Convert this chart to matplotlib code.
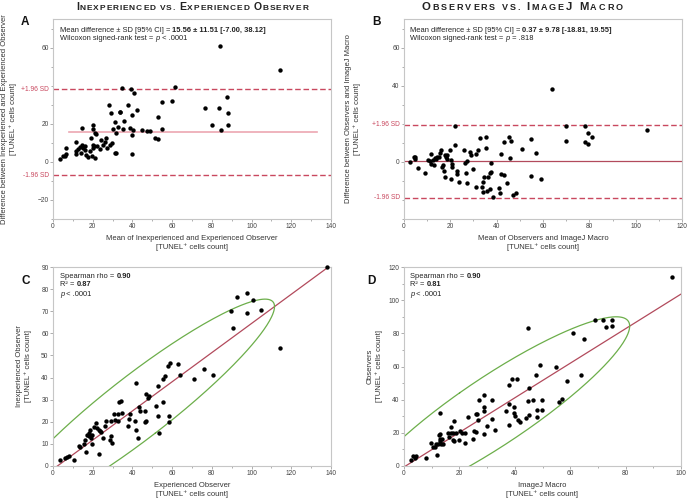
import numpy as np
import matplotlib
matplotlib.use("Agg")
import matplotlib.pyplot as plt
from matplotlib.ticker import MultipleLocator
from matplotlib.transforms import IdentityTransform

plt.rcParams['font.family'] = ['Liberation Sans', 'DejaVu Sans']

# ---- panel A: Bland-Altman, inexperienced vs experienced observer
a_mean = [3.4, 5.0, 5.9, 6.7, 6.7, 11.4, 11.7, 11.7, 12.6, 13.4, 14.4, 14.3, 14.8, 15.1,
          15.9, 16.3, 16.4, 17.4, 18.5, 19.3, 19.5, 20.1, 20.3, 20.1, 20.1, 20.6, 21.0,
          21.3, 21.5, 22.1, 23.5, 24.3, 25.2, 26.0, 26.5, 27.2, 28.0, 28.5, 29.4, 29.5,
          30.2, 31.0, 31.4, 31.9, 31.5, 32.9, 33.6, 33.9, 34.6, 35.2, 35.7, 37.8, 38.9,
          39.3, 39.6, 39.8, 39.9, 40.3, 40.9, 42.4, 44.6, 47.3, 48.7, 51.5, 52.9, 52.7,
          55.0, 55.0, 59.9, 61.2, 76.5, 79.9, 83.6, 83.9, 84.6, 87.6, 88.1, 87.9, 114.1]
a_diff = [1.6, 3.0, 3.3, 4.2, 7.5, 10.4, 3.9, 5.6, 6.5, 7.9, 17.9, 4.7, 9.1, 7.5,
          8.2, 6.1, 3.5, 2.3, 5.6, 12.6, 3.0, 19.5, 17.4, 9.1, 7.4, 8.2, 2.1,
          15.1, 14.4, 8.4, 6.5, 11.4, 9.1, 10.4, 12.3, 7.4, 30.0, 9.1, 25.4, 10.0,
          17.4, 20.9, 4.4, 4.7, 14.9, 18.1, 26.1, 26.3, 38.8, 17.0, 21.4, 29.8, 17.9,
          38.4, 24.4, 13.9, 3.9, 16.5, 36.0, 27.0, 16.5, 16.0, 16.0, 12.6, 12.1, 23.5,
          31.4, 17.0, 31.9, 39.5, 28.4, 19.5, 28.4, 60.9, 16.5, 34.0, 25.4, 19.5, 48.2]
a_stats = [15.56, -7.00, 38.12]          # mean, lower and upper limit
a_mean_span = [8, 133]
a_yticks = [-20, 0, 20, 60]

# ---- panel B: Bland-Altman, observers vs ImageJ macro
b_mean = [2.7, 4.2, 4.6, 4.9, 6.0, 8.9, 10.4, 11.1, 11.8, 11.8, 12.5, 13.0, 13.2, 14.0,
          14.4, 15.1, 15.7, 15.8, 16.4, 16.8, 17.3, 17.8, 17.8, 18.3, 18.6, 18.4, 20.0,
          20.3, 20.7, 20.9, 20.4, 22.2, 22.2, 22.9, 22.9, 23.7, 25.8, 26.2, 26.6, 27.3,
          27.3, 28.3, 28.8, 29.8, 30.9, 31.1, 31.9, 33.0, 33.8, 34.1, 34.1, 34.5, 35.3,
          35.5, 35.8, 36.4, 37.1, 37.3, 37.4, 37.6, 38.4, 40.9, 41.4, 41.7, 42.0, 43.0,
          43.0, 44.3, 45.3, 45.6, 46.3, 46.9, 48.5, 50.9, 54.7, 54.8, 57.1, 59.0, 63.9,
          70.1, 70.1, 78.0, 78.0, 79.4, 79.3, 81.2, 105.0]
b_diff = [-0.2, 2.5, 1.6, 2.3, -3.3, -5.6, 0.9, 0.2, 3.9, -1.2, 1.1, -1.4, 1.9, 1.4,
          2.3, 2.5, 4.9, 6.0, -2.5, -1.6, -4.6, 3.7, -8.1, 2.3, 1.4, 3.7, 6.3,
          1.1, -1.1, -2.5, -9.1, 18.6, 8.8, -4.6, -6.3, -10.4, 6.1, -0.7, -6.1, 0.2,
          -11.2, 5.1, 3.7, -3.9, 3.9, -13.3, 6.3, 12.5, -13.0, -15.8, -10.4, -8.1, 13.0,
          7.5, -15.1, -7.7, -14.4, -5.6, -5.1, -0.5, -18.6, -13.9, -16.5, -6.3, 4.2, -6.8,
          10.4, -10.9, 13.3, 2.1, 11.2, -17.5, -16.5, 6.5, 11.9, -7.5, 4.6, -9.1, 38.2,
          18.8, 11.2, 18.8, 10.5, 15.4, 9.3, 12.8, 16.8]
b_stats = [0.37, -18.81, 19.55]
b_yticks = [0, 40, 60]

# ---- panel C: inexperienced (y) vs experienced (x)
c_exp = [3.5, 6.2, 7.2, 7.9, 10.4, 13.0, 13.6, 15.5, 16.3, 16.6, 17.1, 18.0, 18.3, 18.7,
         19.0, 19.5, 19.7, 20.8, 21.7, 22.2, 23.0, 23.4, 23.9, 24.4, 25.4, 26.2, 26.7,
         28.7, 29.2, 29.1, 29.8, 30.8, 31.4, 32.6, 32.9, 33.4, 34.3, 34.5, 37.6, 38.5,
         39.0, 41.5, 41.7, 41.8, 42.9, 43.5, 43.9, 46.1, 46.2, 46.6, 46.6, 47.7, 48.2,
         52.1, 52.8, 52.8, 53.6, 55.3, 55.6, 56.6, 57.8, 58.7, 58.5, 58.3, 63.2, 64.2,
         70.8, 75.8, 80.7, 89.7, 90.8, 92.6, 97.5, 97.6, 100.7, 104.7, 114.3, 138.0]
c_inexp = [2.6, 3.8, 4.1, 4.4, 2.9, 8.9, 8.4, 10.1, 11.6, 6.2, 13.9, 15.1, 13.4, 16.1,
           12.8, 10.1, 13.9, 17.6, 19.6, 17.3, 16.1, 5.3, 15.8, 15.4, 12.8, 17.9, 20.4,
           11.6, 20.4, 13.7, 10.4, 23.4, 20.7, 23.7, 20.2, 29.0, 29.3, 24.1, 18.3, 21.3,
           23.7, 20.4, 37.7, 16.3, 12.8, 26.8, 24.9, 19.9, 24.7, 20.2, 32.7, 30.9, 31.8,
           27.1, 22.8, 36.3, 14.8, 39.2, 28.8, 40.7, 45.1, 46.8, 22.8, 19.9, 46.2, 41.0,
           39.2, 43.7, 41.3, 70.3, 62.3, 76.3, 78.4, 69.4, 75.3, 70.7, 53.4, 90.0]

# ---- panel D: observers (y) vs ImageJ macro (x)
d_macro = [2.6, 3.2, 4.2, 4.1, 7.8, 9.9, 10.5, 11.1, 11.7, 11.9, 12.2, 12.6, 12.9, 12.9,
           13.1, 13.1, 13.5, 13.7, 14.1, 15.9, 16.1, 16.8, 17.1, 17.7, 17.7, 17.9, 18.0,
           18.7, 19.9, 20.1, 21.1, 21.9, 21.9, 23.1, 24.9, 25.2, 26.1, 25.9, 26.4, 26.7,
           26.9, 28.8, 28.9, 29.0, 29.0, 30.0, 31.9, 31.9, 32.9, 36.9, 37.9, 37.9, 37.9,
           38.9, 39.7, 39.7, 40.0, 40.9, 41.2, 42.0, 43.9, 44.8, 44.9, 45.0, 45.0, 46.6,
           47.8, 48.0, 48.0, 49.0, 49.9, 49.9, 54.9, 55.8, 56.9, 58.8, 61.0, 63.9, 65.0,
           68.9, 72.0, 72.9, 75.0, 75.0, 96.9]
d_obs = [3.4, 5.8, 5.8, 4.8, 4.8, 14.1, 11.5, 11.5, 13.1, 6.6, 13.1, 18.9, 19.5, 32.0,
         16.5, 15.1, 13.1, 16.5, 13.1, 20.1, 17.5, 23.5, 20.1, 20.1, 15.9, 26.9, 15.1,
         20.1, 15.5, 21.1, 20.1, 20.1, 14.1, 29.3, 16.1, 21.1, 20.5, 31.6, 31.6, 27.5,
         40.0, 42.6, 33.0, 35.6, 19.1, 23.9, 39.6, 28.1, 21.9, 33.2, 24.9, 48.6, 37.6,
         52.7, 35.6, 32.2, 30.2, 52.7, 27.9, 26.5, 29.1, 83.4, 39.0, 31.0, 47.2, 40.0,
         54.7, 34.0, 29.5, 60.9, 39.6, 33.6, 59.9, 38.6, 40.6, 51.5, 80.0, 55.1, 76.8,
         88.2, 88.0, 83.6, 88.2, 84.6, 114.0]

W, H = 689, 500
RED = '#c9485f'
PINK = '#eca7b2'
LINE = '#b24a5c'
GREEN = '#6cae4a'
fig = plt.figure(figsize=(W / 100, H / 100), dpi=100)
renderer = fig.canvas.get_renderer()


def axes_px(left, top, right, bottom):
    return fig.add_axes([left / W, 1 - bottom / H, (right - left) / W, (bottom - top) / H])


def advance(s, props):
    t = fig.text(0, 0, s + '|', **props)
    w1 = t.get_window_extent(renderer).width
    t.set_text('|')
    w2 = t.get_window_extent(renderer).width
    t.remove()
    return w1 - w2


def rich(x, y_top, pieces, center=False, color='#222222', tracking=0.0):
    # pieces of text with different weights/sizes on one baseline (pixel coords)
    if tracking:
        pieces = [(ch, p) for s, p in pieces for ch in s]
    widths = [advance(s, p) + tracking for s, p in pieces]
    x0 = x - (sum(widths) - tracking) / 2 if center else x
    for (s, p), w in zip(pieces, widths):
        if s != ' ':
            fig.text(x0, H - y_top, s, transform=IdentityTransform(), va='baseline',
                     ha='left', color=color, **p)
        x0 += w


def style(ax, xlim, ylim, xmaj, ymaj, minor=10):
    ax.set_xlim(xlim)
    ax.set_ylim(ylim)
    ax.xaxis.set_major_locator(MultipleLocator(xmaj))
    ax.xaxis.set_minor_locator(MultipleLocator(minor))
    ax.yaxis.set_major_locator(MultipleLocator(ymaj))
    ax.yaxis.set_minor_locator(MultipleLocator(minor))
    for s in ax.spines.values():
        s.set_color('#c6c6c6')
        s.set_linewidth(0.8)
    ax.tick_params(which='both', direction='out', colors='#a0a0a0', labelcolor='#444444',
                   labelsize=4.8, length=2.2, width=0.6, pad=1.0)
    ax.tick_params(which='minor', length=1.4)


def xlabel(ax, text):
    ax.text(0.5, -0.122, text, transform=ax.transAxes, ha='center', va='center',
            fontsize=5.5, color='#333333', linespacing=1.2)


def ylabel(ax, offset_px, text):
    pos = ax.get_position()
    x = pos.x0 + offset_px / W
    fig.text(x, pos.y0 + pos.height / 2, text, rotation=90, ha='center', va='center',
             fontsize=5.5, color='#333333', linespacing=1.2, multialignment='center')


def bland_altman(ax, mean, diff, stats, yticks, span, mean_color, mean_lw):
    ax.scatter(mean, diff, s=10, color='black', linewidths=0, zorder=3, clip_on=False)
    ax.plot(span, [stats[0], stats[0]], color=mean_color, lw=mean_lw, zorder=2)
    for v, lab in zip(stats[1:], ['-1.96 SD', '+1.96 SD']):
        ax.axhline(v, color=RED, lw=1.0, ls=(0, (4, 2)), zorder=2)
        ax.annotate(lab, xy=(0, v), xycoords=('axes fraction', 'data'), xytext=(-3, 0),
                    textcoords='offset points', ha='right', va='center', fontsize=4.8,
                    color=RED)
    ax.set_yticks(yticks)


def correlation(ax, x, y, xlim):
    x = np.asarray(x)
    y = np.asarray(y)
    ax.scatter(x, y, s=10, color='black', linewidths=0, zorder=3, clip_on=False)
    slope, icpt = np.polyfit(x, y, 1)
    xs = np.linspace(xlim[0], xlim[1], 50)
    ax.plot(xs, icpt + slope * xs, color=LINE, lw=0.9, zorder=2)
    # 95% bivariate normal density ellipse
    cov = np.cov(x, y)
    vals, vecs = np.linalg.eigh(cov)
    t = np.linspace(0, 2 * np.pi, 300)
    circ = np.vstack([np.cos(t), np.sin(t)]) * np.sqrt(vals * 5.991)[:, None]
    pts = vecs @ circ
    ax.plot(x.mean() + pts[0], y.mean() + pts[1], color=GREEN, lw=0.9, zorder=2)


# panel A
axA = axes_px(53, 19, 331, 219)
style(axA, (0, 140), (-30, 75), 20, 20)
bland_altman(axA, a_mean, a_diff, a_stats, a_yticks, a_mean_span, PINK, 1.2)
xlabel(axA, 'Mean of Inexperienced and Experienced Observer\n[TUNEL⁺ cells count]')
ylabel(axA, -44, 'Difference between Inexperienced and Experienced Observer\n[TUNEL⁺ cells count]')

# panel B
axB = axes_px(404, 19, 682, 219)
style(axB, (0, 120), (-30, 75), 20, 20)
bland_altman(axB, b_mean, b_diff, b_stats, b_yticks, [0, 120], LINE, 0.9)
xlabel(axB, 'Mean of Observers and ImageJ Macro\n[TUNEL⁺ cells count]')
ylabel(axB, -51, 'Difference between Observers and ImageJ Macro\n[TUNEL⁺ cells count]')

# panel C
axC = axes_px(53, 267, 331, 466)
style(axC, (0, 140), (0, 90), 20, 10)
correlation(axC, c_exp, c_inexp, (0, 140))
xlabel(axC, 'Experienced Observer\n[TUNEL⁺ cells count]')
ylabel(axC, -29, 'Inexperienced Observer\n[TUNEL⁺ cells count]')

# panel D
axD = axes_px(404, 267, 681, 466)
style(axD, (0, 100), (0, 120), 20, 20)
correlation(axD, d_macro, d_obs, (0, 100))
xlabel(axD, 'ImageJ Macro\n[TUNEL⁺ cells count]')
ylabel(axD, -29, 'Observers\n[TUNEL⁺ cells count]')

# titles in small caps
big = dict(fontsize=7.6, fontweight='bold')
sml = dict(fontsize=6.0, fontweight='bold')
rich(192, 9.8, [('I', big), ('NEXPERIENCED VS. ', sml), ('E', big), ('XPERIENCED ', sml),
                ('O', big), ('BSERVER', sml)], center=True, tracking=0.9)
bigB = dict(fontsize=8.2, fontweight='bold')
smlB = dict(fontsize=6.5, fontweight='bold')
rich(522, 9.8, [('O', bigB), ('BSERVERS VS. ', smlB), ('I', bigB), ('MAGE', smlB),
                ('J ', bigB), ('M', bigB), ('ACRO', smlB)], center=True, tracking=1.9)

# panel letters
for lx, ly, letter in [(21, 25, 'A'), (372, 25, 'B'), (21, 284, 'C'), (367, 284, 'D')]:
    fig.text(lx, H - ly, letter, transform=IdentityTransform(), fontsize=8.5,
             fontweight='bold', color='#111111', va='baseline')

# annotations
n = dict(fontsize=5.4)
b = dict(fontsize=5.4, fontweight='bold')
it = dict(fontsize=5.4, style='italic')
for x0, res in [(60, '15.56 ± 11.51 [-7.00, 38.12]'), (410, '0.37 ± 9.78 [-18.81, 19.55]')]:
    rich(x0, 32, [('Mean difference ± SD [95% CI] = ', n), (res, b)])
rich(60, 40, [('Wilcoxon signed-rank test = ', n), ('p', it), (' < .0001', n)])
rich(410, 40, [('Wilcoxon signed-rank test = ', n), ('p', it), (' = .818', n)])
for x0, r2 in [(60, '0.87'), (410, '0.81')]:
    rich(x0, 277.5, [('Spearman rho = ', n), ('0.90', b)])
    rich(x0, 286.5, [('R² = ', n), (r2, b)])
    rich(x0, 296, [('p', it), (' < .0001', n)])

fig.savefig('out.png', dpi=100)
